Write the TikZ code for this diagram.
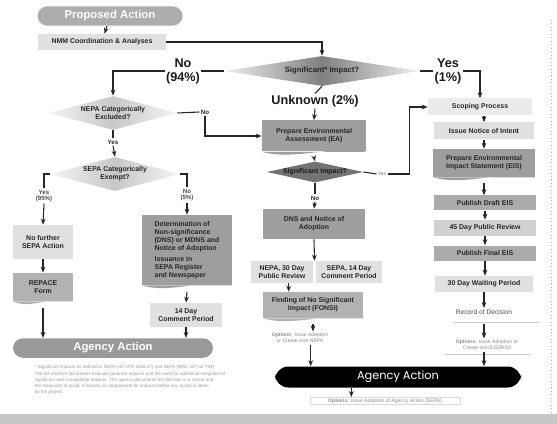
\documentclass[tikz,border=0pt]{standalone}
\usepackage{fontspec}
\setmainfont{Liberation Sans}
\newfontfamily\poppfont{Poppins}
\usetikzlibrary{shapes.geometric,arrows.meta,calc,backgrounds}
\newcommand\docwave[2]{%
  \fill[#2] (#1.south west) .. controls ($(#1.south west)!0.3!(#1.south east)+(0,9)$) and ($(#1.south west)!0.7!(#1.south east)+(0,-7)$) .. (#1.south east) -- cycle;}
\begin{document}
\begin{tikzpicture}[x=0.75pt,y=-0.75pt,
  ln/.style={line width=0.8pt,draw=black!85},
  arr/.style={ln,-{Stealth[length=4.5pt,width=3.5pt]}},
  btxt/.style={font=\fontsize{5.2}{6}\selectfont\bfseries,text=black!85,align=center},
  big/.style={font=\fontsize{9.5}{10.5}\selectfont\bfseries,text=black!90,align=center,inner sep=1pt},
  lbl/.style={font=\fontsize{4.6}{5}\selectfont\bfseries,text=black!85,align=center,inner sep=1pt},
  box/.style={btxt,inner sep=1pt,minimum height=#1*0.75pt},
  darkbox/.style={fill=black!38},
  lightbox/.style={fill=black!12},
  pill/.style={rounded corners=7.5pt,fill=black!32,text=white,font=\fontsize{8.5}{9}\selectfont\bfseries,minimum height=18*0.75pt},
  dia/.style={diamond,inner sep=0pt,aspect=#1},
  opt/.style={font=\fontsize{3.8}{4.6}\selectfont,text=black!45,align=center,inner sep=1pt},
  faint/.style={font=\fontsize{3.4}{4.6}\selectfont,text=black!40,align=left,inner sep=0pt}
]
\begin{scope}[on background layer]
\fill[white] (0,0) rectangle (557,424);
\end{scope}
\useasboundingbox (0,0) rectangle (557,424);
\fill[black!22] (0,414) rectangle (557,424);
\draw[black!30,line width=0.6pt,dotted] (551,20) -- (551,412);

% ---------- top ----------
\node[pill,minimum width=145*0.75pt] (pa) at (110,16) {Proposed Action};
\node[box=16,lightbox,minimum width=128*0.75pt] (nmm) at (102,42) {NMM Coordination \& Analyses};
\node[dia=6.5,minimum width=195*0.75pt,minimum height=30*0.75pt,
      shading=axis,left color=black!6,right color=black!6,middle color=black!50,
      btxt,font=\fontsize{5.8}{6.5}\selectfont\bfseries] (sig) at (322,71) {Significant* Impact?};
\node[big] (no94) at (183,71) {No\\(94\%)};
\node[big] (yes1) at (448,71) {Yes\\(1\%)};
\node[big] (unk) at (315,101) {Unknown (2\%)};

\draw[arr] (pa) -- (nmm);
\draw[arr] (nmm.east) -| (sig.north);
\draw[ln] (sig.west) -- (no94.east);
\draw[ln] (sig.east) -- (yes1.west);
\draw[ln] (sig.south) -- (unk.north);

% ---------- left branch ----------
\node[dia=4,minimum width=128*0.75pt,minimum height=34*0.75pt,
      shading=axis,left color=black!4,right color=black!4,middle color=black!22,btxt] (nepa) at (113,113) {NEPA Categorically\\Excluded?};
\node[lbl] (yesA) at (113,142) {Yes};
\node[lbl] (noA) at (205,112) {No};
\node[dia=4,minimum width=130*0.75pt,minimum height=34*0.75pt,
      shading=axis,left color=black!4,right color=black!4,middle color=black!22,btxt] (sepa) at (115,174) {SEPA Categorically\\Exempt?};
\node[lbl,text=black!70] (yes95) at (44,196) {Yes\\(95\%)};
\node[lbl,text=black!70] (no5) at (187,195) {No\\(5\%)};

\draw[arr] (no94.west) -| (nepa.north);
\draw[ln] (nepa.south) -- (yesA.north);
\draw[arr] (yesA.south) -- (sepa.north);
\draw[ln] (nepa.east) -- (noA.west);
\draw[ln] (sepa.west) -| (yes95.north);
\draw[ln] (sepa.east) -| (no5.north);

\node[box=34,lightbox,minimum width=60*0.75pt] (nofur) at (43,242) {No further\\SEPA Action};
\node[box=28,darkbox,fill=black!30,minimum width=60*0.75pt] (repace) at (43,287) {REPACE\\Form};
\node[box=70,darkbox,minimum width=90*0.75pt,align=left] (dnsL) at (187,250)
  {Determination of\\Non-significance\\(DNS) or MDNS and\\Notice of Adoption\\[2pt]Issuance in\\SEPA Register\\and Newspaper};
\node[box=24,lightbox,minimum width=72*0.75pt] (day14) at (186,315) {14 Day\\Comment Period};
\node[pill,fill=black!40,minimum width=200*0.75pt] (agL) at (113,348) {Agency Action};

\begin{scope}[on background layer]
  \docwave{repace}{black!30}
  \docwave{dnsL}{black!38}
\end{scope}

\draw[arr] (yes95.south) -- (nofur.north);
\draw[arr] (no5.south) -- (dnsL.north);
\draw[arr] (nofur.south) -- (repace.north);
\draw[arr] ([yshift=-5pt]repace.south) -- (repace.south |- agL.north);
\draw[arr] ([yshift=-5pt]dnsL.south) -- (day14.north);
\draw[arr] (day14.south) -- (day14.south |- agL.north);

\node[faint] (para) at (130,380) {%
  * Significant impacts as defined in NEPA (40 CFR 1508.27) and SEPA (WAC 197-11-794)\\
  The EA and EIS documents evaluate potential impacts and the need for additional mitigation of\\
  significant and unavoidable impacts. The agency documents the decision in a record and\\
  the measures to avoid, minimize, or compensate for impacts before any action is taken\\
  on the project.};

% ---------- center ----------
\node[box=31,darkbox,minimum width=104*0.75pt] (ea) at (314,136) {Prepare Environmental\\Assessment (EA)};
\node[dia=5,minimum width=96*0.75pt,minimum height=21*0.75pt,fill=black!55,btxt,text=black!90] (sig2) at (315,172) {Significant Impact?};
\node[lbl] (noB) at (315,198) {No};
\node[font=\fontsize{3.6}{4}\selectfont,text=black!60,inner sep=1pt] (yesS) at (382,174) {Yes};
\node[box=30,darkbox,minimum width=102*0.75pt] (dns) at (314,224) {DNS and Notice of\\Adoption};
\node[box=22,lightbox,minimum width=62*0.75pt] (n30) at (282,272) {NEPA, 30 Day\\Public Review};
\node[box=22,lightbox,minimum width=66*0.75pt] (s14) at (349,272) {SEPA, 14 Day\\Comment Period};
\node[box=26,darkbox,fill=black!30,minimum width=100*0.75pt] (fonsi) at (313,305) {Finding of No Significant\\Impact (FONSI)};
\node[opt] (optC) at (300,338) {\textbf{Options:} Issue Adoption\\or Create own NEPA};
\node[rounded corners=10pt,fill=black,text=white,font=\poppfont\fontsize{8.5}{9}\selectfont,
      minimum width=246*0.75pt,minimum height=21*0.75pt] (ag) at (398,377) {Agency Action};
\node[opt,draw=black!15,minimum width=150*0.75pt] (opt2) at (385,401) {\textbf{Options:} Issue Adoption of Agency Action (SEPA)};

\begin{scope}[on background layer]
  \docwave{ea}{black!38}
  \docwave{fonsi}{black!30}
\end{scope}

\coordinate (mid) at ($(n30.north east)!0.5!(s14.north west)$);
\draw[arr] (unk.south) -- (ea.north);
\draw[arr] ([yshift=-4pt]ea.south) -- (sig2.north);
\draw[ln] (sig2.south) -- (noB.north);
\draw[arr] (noB.south) -- (dns.north);
\draw[arr] (noA.south) |- (ea.west);
\draw[arr] (dns.south) -- (mid);
\draw[arr] ([xshift=5pt]n30.south) -- ([xshift=5pt]n30.south |- fonsi.north);
\draw[arr] ([yshift=-4pt]fonsi.south) -- (optC.north -| fonsi.south);
\draw[arr] ([xshift=8pt]optC.south) -- ([xshift=8pt]optC.south |- ag.north);
\draw[arr] ([xshift=-35pt]ag.south) -- ([xshift=-35pt]ag.south |- opt2.north);
\draw[ln] (sig2.east) -- (yesS.west);

% ---------- right column ----------
\node[box=17,lightbox,fill=black!8,minimum width=104*0.75pt] (scope) at (480,107) {Scoping Process};
\node[box=17,lightbox,minimum width=100*0.75pt] (noi) at (484,131) {Issue Notice of Intent};
\node[box=28,darkbox,minimum width=102*0.75pt] (eis) at (484,163) {Prepare Environmental\\Impact Statement (EIS)};
\node[box=15,darkbox,fill=black!33,minimum width=102*0.75pt] (deis) at (485,203) {Publish Draft EIS};
\node[box=16,lightbox,fill=black!18,minimum width=102*0.75pt] (d45) at (485,228) {45 Day Public Review};
\node[box=15,darkbox,fill=black!33,minimum width=102*0.75pt] (feis) at (485,253) {Publish Final EIS};
\node[box=16,lightbox,minimum width=98*0.75pt] (d30) at (484,284) {30 Day Waiting Period};
\node[btxt,font=\fontsize{5}{6}\selectfont,text=black!70,inner sep=1pt] (rod) at (484,312) {Record of Decision};
\node[opt] (optR) at (487,345) {\textbf{Options:} Issue Adoption or\\Create own EIS/ROD};

\begin{scope}[on background layer]
  \docwave{eis}{black!38}
\end{scope}
\draw[black!20,line width=0.5pt] ([yshift=-5pt]rod.south west) -- ([yshift=-5pt,xshift=20pt]rod.south east);
\draw[black!20,line width=0.5pt] ([yshift=-2pt,xshift=-8pt]optR.south west) -- ([yshift=-2pt,xshift=8pt]optR.south east);

\draw[arr] (yes1.east) -| (scope.north);
\draw[arr] (yesS.east) -| ($(scope.west)+(-18,0)$) -- (scope.west);
\draw[arr] (scope.south -| noi.north) -- (noi.north);
\draw[arr] (noi) -- (eis);
\draw[arr] ([yshift=-4pt]eis.south) -- (deis.north -| eis.south);
\draw[arr] (deis) -- (d45);
\draw[arr] (d45) -- (feis);
\draw[arr] (feis.south) -- (d30.north -| feis.south);
\draw[arr] (d30) -- (rod);
\draw[arr] ([yshift=-6pt]rod.south) -- (optR.north -| rod.south);
\draw[arr] (optR.south -| rod.south) -- (ag.north -| rod.south);
\end{tikzpicture}
\end{document}
